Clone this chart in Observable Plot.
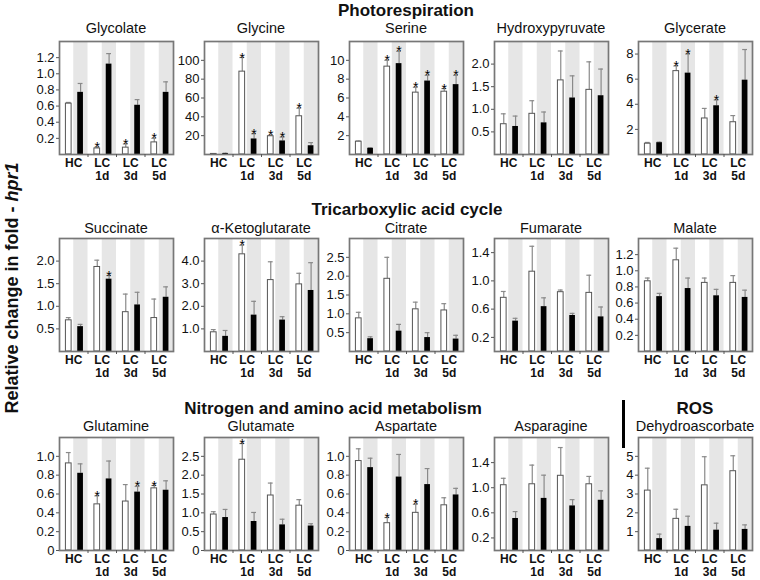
<!DOCTYPE html>
<html><head><meta charset="utf-8">
<script src="https://cdn.jsdelivr.net/npm/d3@7"></script>
<script src="https://cdn.jsdelivr.net/npm/@observablehq/plot@0.6"></script>
<style>
body{margin:0;background:#fff;font-family:Arial,"Liberation Sans",sans-serif;color:#111;}
#root{position:relative;width:760px;height:580px;overflow:hidden;}
.abs{position:absolute;white-space:nowrap;transform:translate(-50%,-50%);line-height:1;}
.sec{font-weight:bold;font-size:17px;}
.ttl{font-size:14.5px;}
#root svg{position:absolute;}
</style></head><body><div id="root"></div>
<script>
// x categories (each group: open bar and black bar)
const groups = ["HC", "LC\n1d", "LC\n3d", "LC\n5d"];

// slot order: HC open, HC black, 1d open, 1d black, 3d open, 3d black, 5d open, 5d black
const glycolateMean = [0.63, 0.77, 0.075, 1.12, 0.085, 0.61, 0.15, 0.77];
const glycolateErr  = [0.015, 0.11, 0.015, 0.13, 0.045, 0.07, 0.05, 0.13];
const glycolateSig  = [0, 0, 1, 0, 1, 0, 1, 0];

const glycineMean = [0.6, 1.0, 88, 16.5, 19.4, 14.4, 40.6, 9.3];
const glycineErr  = [0.3, 0.4, 15, 5.5, 1, 4, 8.5, 3.3];
const glycineSig  = [0, 0, 1, 1, 1, 1, 1, 0];

const serineMean = [1.36, 0.65, 9.33, 9.65, 6.57, 7.8, 6.67, 7.42];
const serineErr  = [0.07, 0.07, 0.67, 1.3, 0.56, 0.6, 0.33, 0.98];
const serineSig  = [0, 0, 1, 1, 1, 1, 1, 1];

const hydroxypyruvateMean = [0.67, 0.62, 0.90, 0.70, 1.64, 1.25, 1.43, 1.30];
const hydroxypyruvateErr  = [0.23, 0.23, 0.29, 0.24, 0.65, 0.49, 0.62, 0.59];
const hydroxypyruvateSig  = [0, 0, 0, 0, 0, 0, 0, 0];

const glycerateMean = [0.86, 0.94, 6.64, 6.48, 2.87, 3.88, 2.57, 5.92];
const glycerateErr  = [0.1, 0.05, 0.41, 1.52, 0.8, 0.46, 0.53, 2.44];
const glycerateSig  = [0, 0, 1, 1, 0, 1, 0, 0];

const succinateMean = [0.69, 0.55, 1.87, 1.60, 0.87, 1.03, 0.74, 1.20];
const succinateErr  = [0.06, 0.05, 0.15, 0.08, 0.40, 0.28, 0.42, 0.23];
const succinateSig  = [0, 0, 0, 1, 0, 0, 0, 0];

const ketoglutarateMean = [0.85, 0.67, 4.30, 1.61, 3.16, 1.39, 2.97, 2.70];
const ketoglutarateErr  = [0.12, 0.26, 0.40, 0.61, 0.81, 0.15, 0.49, 1.23];
const ketoglutarateSig  = [0, 0, 1, 0, 0, 0, 0, 0];

const citrateMean = [0.88, 0.34, 1.93, 0.54, 1.12, 0.37, 1.09, 0.33];
const citrateErr  = [0.16, 0.05, 0.57, 0.18, 0.19, 0.13, 0.18, 0.10];
const citrateSig  = [0, 0, 0, 0, 0, 0, 0, 0];

const fumarateMean = [0.76, 0.43, 1.13, 0.635, 0.84, 0.51, 0.83, 0.49];
const fumarateErr  = [0.09, 0.04, 0.36, 0.125, 0.03, 0.03, 0.25, 0.14];
const fumarateSig  = [0, 0, 0, 0, 0, 0, 0, 0];

const malateMean = [0.87, 0.68, 1.13, 0.78, 0.85, 0.69, 0.85, 0.67];
const malateErr  = [0.04, 0.04, 0.15, 0.13, 0.06, 0.08, 0.09, 0.09];
const malateSig  = [0, 0, 0, 0, 0, 0, 0, 0];

const glutamineMean = [0.925, 0.82, 0.49, 0.76, 0.52, 0.62, 0.66, 0.64];
const glutamineErr  = [0.115, 0.10, 0.09, 0.19, 0.18, 0.06, 0.03, 0.10];
const glutamineSig  = [0, 0, 1, 0, 0, 1, 1, 0];

const glutamateMean = [0.955, 0.875, 2.41, 0.77, 1.46, 0.68, 1.19, 0.65];
const glutamateErr  = [0.075, 0.215, 0.43, 0.24, 0.33, 0.15, 0.16, 0.06];
const glutamateSig  = [0, 0, 1, 0, 0, 0, 0, 0];

const aspartateMean = [0.95, 0.88, 0.29, 0.78, 0.40, 0.70, 0.48, 0.59];
const aspartateErr  = [0.13, 0.10, 0.06, 0.24, 0.09, 0.17, 0.08, 0.07];
const aspartateSig  = [0, 0, 1, 0, 1, 0, 0, 0];

const asparagineMean = [1.04, 0.51, 1.055, 0.83, 1.19, 0.71, 1.055, 0.80];
const asparagineErr  = [0.11, 0.11, 0.305, 0.37, 0.45, 0.10, 0.125, 0.15];
const asparagineSig  = [0, 0, 0, 0, 0, 0, 0, 0];

const dehydroascorbateMean = [3.18, 0.63, 1.68, 1.28, 3.46, 1.08, 4.21, 1.12];
const dehydroascorbateErr  = [1.19, 0.24, 0.51, 0.54, 1.52, 0.37, 0.82, 0.24];
const dehydroascorbateSig  = [0, 0, 0, 0, 0, 0, 0, 0];

// y-axis tick values
const ticksGlycolate = [0.2, 0.4, 0.6, 0.8, 1.0, 1.2];
const ticksGlycine = [20, 40, 60, 80, 100];
const ticksSerine = [2, 4, 6, 8, 10];
const ticksHalf = [0.5, 1.0, 1.5, 2.0];
const ticksGlycerate = [2, 4, 6, 8];
const ticksKeto = [1, 2, 3, 4];
const ticksCitrate = [0.5, 1.0, 1.5, 2.0, 2.5];
const ticksFour = [0.2, 0.6, 1.0, 1.4];
const ticksZeroTo1 = [0, 0.2, 0.4, 0.6, 0.8, 1.0];
const ticksGlutamate = [0, 0.5, 1.0, 1.5, 2.0, 2.5];
const ticksDHA = [1, 2, 3, 4, 5];

const f1 = d => d === 0 ? "0" : d3.format(".1f")(d);
const f0 = d => String(d);

const panels = [
  {t:"Glycolate", m:glycolateMean, e:glycolateErr, s:glycolateSig, max:1.4, ticks:ticksGlycolate, fmt:f1, r:0, c:0},
  {t:"Glycine", m:glycineMean, e:glycineErr, s:glycineSig, max:120, ticks:ticksGlycine, fmt:f0, r:0, c:1},
  {t:"Serine", m:serineMean, e:serineErr, s:serineSig, max:12, ticks:ticksSerine, fmt:f0, r:0, c:2},
  {t:"Hydroxypyruvate", m:hydroxypyruvateMean, e:hydroxypyruvateErr, s:hydroxypyruvateSig, max:2.5, ticks:ticksHalf, fmt:f1, r:0, c:3},
  {t:"Glycerate", m:glycerateMean, e:glycerateErr, s:glycerateSig, max:9, ticks:ticksGlycerate, fmt:f0, r:0, c:4},
  {t:"Succinate", m:succinateMean, e:succinateErr, s:succinateSig, max:2.5, ticks:ticksHalf, fmt:f1, r:1, c:0},
  {t:"α-Ketoglutarate", m:ketoglutarateMean, e:ketoglutarateErr, s:ketoglutarateSig, max:5, ticks:ticksKeto, fmt:f1, r:1, c:1},
  {t:"Citrate", m:citrateMean, e:citrateErr, s:citrateSig, max:3, ticks:ticksCitrate, fmt:f1, r:1, c:2},
  {t:"Fumarate", m:fumarateMean, e:fumarateErr, s:fumarateSig, max:1.6, ticks:ticksFour, fmt:f1, r:1, c:3},
  {t:"Malate", m:malateMean, e:malateErr, s:malateSig, max:1.4, ticks:ticksGlycolate, fmt:f1, r:1, c:4},
  {t:"Glutamine", m:glutamineMean, e:glutamineErr, s:glutamineSig, max:1.2, ticks:ticksZeroTo1, fmt:f1, r:2, c:0},
  {t:"Glutamate", m:glutamateMean, e:glutamateErr, s:glutamateSig, max:3, ticks:ticksGlutamate, fmt:f1, r:2, c:1},
  {t:"Aspartate", m:aspartateMean, e:aspartateErr, s:aspartateSig, max:1.2, ticks:ticksZeroTo1, fmt:f1, r:2, c:2},
  {t:"Asparagine", m:asparagineMean, e:asparagineErr, s:asparagineSig, max:1.8, ticks:ticksFour, fmt:f1, r:2, c:3},
  {t:"Dehydroascorbate", m:dehydroascorbateMean, e:dehydroascorbateErr, s:dehydroascorbateSig, max:6, ticks:ticksDHA, fmt:f0, r:2, c:4}
];

const root = document.getElementById("root");
const colX = [59, 204, 349, 494, 638];
const rowY = [41, 238, 437];
const titleY = [28, 228, 426];
const FW = 114, FH = 113, ML = 40, MR = 4, MT = 4, MB = 36;

function addText(html, x, y, cls) {
  const d = document.createElement("div");
  d.className = "abs " + cls;
  d.style.left = x + "px"; d.style.top = y + "px";
  d.innerHTML = html;
  root.appendChild(d);
  return d;
}

const nSlots = groups.length * 2;
const graySlots = groups.map((g, i) => 2 * i + 1);
const groupCenters = groups.map((g, i) => 2 * i + 1);
const boundaries = groups.slice(1).map((g, i) => 2 * (i + 1));

for (const p of panels) {
  const rows = p.m.map((v, i) => ({slot: i, open: i % 2 === 0, m: v, e: p.e[i], s: p.s[i]}));
  const cx = d => d.open ? d.slot + 0.65 : d.slot + 0.48;
  const openRows = rows.filter(d => d.open), blackRows = rows.filter(d => !d.open);
  const svg = Plot.plot({
    width: ML + FW + MR, height: MT + FH + MB,
    marginLeft: ML, marginRight: MR, marginTop: MT, marginBottom: MB,
    style: {fontFamily: "Arial, 'Liberation Sans', sans-serif", fontSize: "13px", background: "transparent", color: "#111"},
    x: {domain: [0, nSlots]},
    y: {domain: [0, p.max]},
    marks: [
      Plot.rect(graySlots, {x1: d => d, x2: d => d + 1, y1: 0, y2: p.max, fill: "#e6e6e6"}),
      Plot.ruleX(rows, {x: cx, y1: d => d.m, y2: d => d.m + d.e, stroke: "#8a8a8a", strokeWidth: 1.2}),
      Plot.ruleY(rows, {y: d => d.m + d.e, x1: d => cx(d) - 0.17, x2: d => cx(d) + 0.17, stroke: "#8a8a8a", strokeWidth: 1.2}),
      Plot.rect(openRows, {x1: d => d.slot + 0.45, x2: d => d.slot + 0.85, y1: 0, y2: d => d.m, fill: "white", stroke: "#555", strokeWidth: 1}),
      Plot.rect(blackRows, {x1: d => d.slot + 0.28, x2: d => d.slot + 0.68, y1: 0, y2: d => d.m, fill: "black"}),
      Plot.text(rows.filter(d => d.s), {x: cx, y: d => d.m + d.e, text: () => "*", lineAnchor: "bottom", dy: 5, fontSize: 14, fill: "black"}),
      Plot.frame({stroke: "#777", strokeWidth: 1.7}),
      Plot.axisY({ticks: p.ticks, tickFormat: p.fmt, tickSize: 3, tickPadding: 2, fontSize: 13, stroke: "#555", label: null}),
      Plot.axisX({ticks: groupCenters, tickFormat: d => groups[(d - 1) / 2], tickSize: 0, tickPadding: 3, fontSize: 12, fontWeight: "bold", lineHeight: 1.1, label: null}),
      Plot.axisX({ticks: boundaries, tickFormat: () => "", tickSize: 3, stroke: "#555", label: null})
    ]
  });
  svg.style.left = (colX[p.c] - ML) + "px";
  svg.style.top = (rowY[p.r] - MT) + "px";
  root.appendChild(svg);
  addText(p.t, colX[p.c] + FW / 2, titleY[p.r], "ttl");
}

addText("Photorespiration", 406, 10, "sec");
addText("Tricarboxylic acid cycle", 407, 209, "sec");
addText("Nitrogen and amino acid metabolism", 333, 408, "sec");
addText("ROS", 695, 408, "sec");
const bar = document.createElement("div");
bar.style.cssText = "position:absolute;left:622px;top:400px;width:3px;height:48px;background:#000;";
root.appendChild(bar);
const yl = addText("Relative change in fold - <i>hpr1</i>", 12, 288, "sec");
yl.style.fontSize = "18px";
yl.style.transform = "translate(-50%,-50%) rotate(-90deg)";
</script>
</body></html>
